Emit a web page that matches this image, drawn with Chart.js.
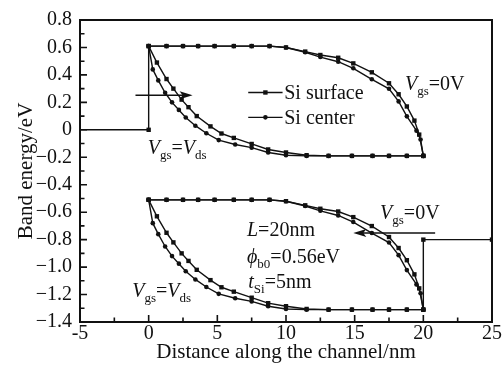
<!DOCTYPE html>
<html>
<head>
<meta charset="utf-8">
<script src="https://cdn.jsdelivr.net/npm/chart.js@4.4.1/dist/chart.umd.min.js"></script>
<style>
  body { margin: 0; background: #fff; }
  canvas { display: block; }
</style>
</head>
<body>
<canvas id="chart" width="503" height="372"></canvas>
<script>
// --- data ---
// Vgs = 0V, flat then bending down near the drain
const xZeroSurface = [0, 1.3, 2.5, 3.6, 4.8, 6.2, 7.5, 8.8, 10.0, 11.4, 12.5, 13.8, 14.9, 16.25, 17.5, 18.2, 18.8, 19.35, 19.7, 20];
const xZeroCenter = [0, 1.3, 2.5, 3.6, 4.8, 6.2, 7.5, 8.8, 10.0, 11.4, 12.5, 13.8, 14.9, 16.25, 17.5, 18.2, 18.8, 19.5, 19.8, 20];
const upZeroSurface = [0.61, 0.61, 0.61, 0.61, 0.61, 0.61, 0.61, 0.61, 0.60, 0.57, 0.545, 0.525, 0.484, 0.419, 0.339, 0.259, 0.170, 0.067, -0.035, -0.19];
const upZeroCenter = [0.61, 0.61, 0.61, 0.61, 0.61, 0.61, 0.61, 0.61, 0.60, 0.565, 0.53, 0.496, 0.448, 0.368, 0.299, 0.207, 0.098, -0.006, -0.071, -0.19];
const lowZeroSurface = [-0.51, -0.51, -0.51, -0.51, -0.51, -0.51, -0.51, -0.51, -0.52, -0.55, -0.575, -0.595, -0.636, -0.701, -0.781, -0.861, -0.95, -1.053, -1.155, -1.31];
const lowZeroCenter = [-0.51, -0.51, -0.51, -0.51, -0.51, -0.51, -0.51, -0.51, -0.52, -0.555, -0.59, -0.624, -0.672, -0.752, -0.821, -0.913, -1.022, -1.126, -1.191, -1.31];

// Vgs = Vds, dropping right after the source
const xVdsOuter = [0, 0.6, 1.3, 1.8, 2.4, 2.9, 3.5, 4.5, 5.3, 6.2, 7.5, 8.7, 10.0, 11.5, 13.1, 14.8, 16.3, 17.5, 18.8, 20];
const xVdsInner = [0, 0.3, 0.7, 1.2, 1.7, 2.2, 2.7, 3.4, 4.2, 5.1, 6.3, 7.5, 8.7, 10.0, 11.5, 13.1, 14.8, 16.3, 17.5, 18.8, 20];
const upVdsOuter = [0.61, 0.49, 0.37, 0.30, 0.22, 0.165, 0.10, 0.025, -0.027, -0.059, -0.103, -0.143, -0.165, -0.185, -0.19, -0.19, -0.19, -0.19, -0.19, -0.19];
const upVdsInner = [0.61, 0.44, 0.36, 0.27, 0.20, 0.145, 0.09, 0.03, -0.025, -0.075, -0.107, -0.13, -0.165, -0.185, -0.19, -0.19, -0.19, -0.19, -0.19, -0.19, -0.19];
const lowVdsOuter = [-0.51, -0.63, -0.75, -0.82, -0.90, -0.955, -1.02, -1.095, -1.147, -1.179, -1.223, -1.263, -1.285, -1.305, -1.31, -1.31, -1.31, -1.31, -1.31, -1.31];
const lowVdsInner = [-0.51, -0.68, -0.76, -0.85, -0.92, -0.975, -1.03, -1.09, -1.145, -1.195, -1.227, -1.25, -1.285, -1.305, -1.31, -1.31, -1.31, -1.31, -1.31, -1.31, -1.31];

// source / drain steps
const xSourceStep = [-5, 0, 0];
const ySourceStep = [0, 0, 0.61];
const xDrainStep = [20, 20, 25];
const yDrainStep = [-1.31, -0.8, -0.8];

const xTicks = [-5, 0, 5, 10, 15, 20, 25];
const yTicks = [0.8, 0.6, 0.4, 0.2, 0, -0.2, -0.4, -0.6, -0.8, -1.0, -1.2, -1.4];

const SERIF = '"Liberation Serif", "Times New Roman", serif';
const INK = '#111';

function pts(xs, ys) {
  return ys.map((y, i) => ({ x: xs[i], y: y }));
}

function series(data, shape, radius) {
  return {
    data: data,
    showLine: true,
    borderColor: INK,
    borderWidth: 1.4,
    pointStyle: shape,
    pointRadius: radius !== undefined ? radius : (shape === 'rect' ? 3.1 : 2.3),
    pointBackgroundColor: INK,
    pointBorderWidth: 0,
    tension: 0
  };
}

const datasets = [
  series(pts(xSourceStep, ySourceStep), 'rect', [0, 3.1, 0]),
  series(pts(xDrainStep, yDrainStep), 'rect', [0, 3.1, 3.1]),
  series(pts(xZeroSurface, upZeroSurface), 'rect'),
  series(pts(xZeroCenter, upZeroCenter), 'circle'),
  series(pts(xVdsOuter, upVdsOuter), 'rect'),
  series(pts(xVdsInner, upVdsInner), 'circle'),
  series(pts(xZeroSurface, lowZeroSurface), 'rect'),
  series(pts(xZeroCenter, lowZeroCenter), 'circle'),
  series(pts(xVdsOuter, lowVdsOuter), 'rect'),
  series(pts(xVdsInner, lowVdsInner), 'circle')
];

// rich text: [text, kind] where kind is 'i' italic, 's' subscript, '' normal
function drawRich(ctx, x, y, parts) {
  let cx = x;
  ctx.textBaseline = 'alphabetic';
  ctx.textAlign = 'left';
  parts.forEach(([text, kind]) => {
    if (kind === 'i') ctx.font = 'italic 20px ' + SERIF;
    else if (kind === 's') ctx.font = '13px ' + SERIF;
    else ctx.font = '20px ' + SERIF;
    ctx.fillText(text, cx, y + (kind === 's' ? 5 : 0));
    cx += ctx.measureText(text).width;
  });
}

function arrow(ctx, x1, x2, y) {
  const dir = Math.sign(x2 - x1);
  ctx.beginPath();
  ctx.moveTo(x1, y);
  ctx.lineTo(x2 - dir * 6, y);
  ctx.stroke();
  ctx.beginPath();
  ctx.moveTo(x2, y);
  ctx.lineTo(x2 - dir * 13, y - 4);
  ctx.lineTo(x2 - dir * 10, y);
  ctx.lineTo(x2 - dir * 13, y + 4);
  ctx.closePath();
  ctx.fill();
}

const framePlugin = {
  id: 'frame',
  afterDraw(chart) {
    const { ctx, chartArea: a, scales } = chart;
    const sx = scales.x, sy = scales.y;
    const X = v => sx.getPixelForValue(v);
    const Y = v => sy.getPixelForValue(v);
    ctx.save();
    ctx.strokeStyle = INK;
    ctx.fillStyle = INK;

    // box
    ctx.lineWidth = 2;
    ctx.strokeRect(a.left, a.top, a.right - a.left, a.bottom - a.top);

    // inward ticks on left and bottom
    ctx.lineWidth = 1.6;
    ctx.beginPath();
    for (let v = -5; v <= 25.01; v += 2.5) {
      const major = Math.abs(v / 5 - Math.round(v / 5)) < 1e-6;
      const len = major ? 7 : 4.5;
      ctx.moveTo(X(v), a.bottom);
      ctx.lineTo(X(v), a.bottom - len);
    }
    for (let i = 0; i <= 22; i++) {
      const v = -1.4 + i * 0.1;
      const len = i % 2 === 0 ? 7 : 4.5;
      ctx.moveTo(a.left, Y(v));
      ctx.lineTo(a.left + len, Y(v));
    }
    ctx.stroke();

    // arrows
    ctx.lineWidth = 1.5;
    arrow(ctx, X(-0.96), X(3.2), Y(0.252));
    arrow(ctx, X(20.86), X(14.9), Y(-0.752));

    // legend
    const legendRows = [['Si surface', 'rect', 0.272], ['Si center', 'circle', 0.091]];
    legendRows.forEach(([label, shape, v]) => {
      const y = Y(v);
      ctx.lineWidth = 1.4;
      ctx.beginPath();
      ctx.moveTo(X(7.25), y);
      ctx.lineTo(X(9.75), y);
      ctx.stroke();
      const mx = (X(7.25) + X(9.75)) / 2;
      ctx.beginPath();
      if (shape === 'rect') ctx.rect(mx - 2.2, y - 2.2, 4.4, 4.4);
      else ctx.arc(mx, y, 2.3, 0, Math.PI * 2);
      ctx.fill();
      ctx.font = '20px ' + SERIF;
      ctx.textBaseline = 'middle';
      ctx.textAlign = 'left';
      ctx.fillText(label, X(9.87), y + 1);
    });

    // annotations
    drawRich(ctx, X(18.67), Y(0.293), [['V', 'i'], ['gs', 's'], ['=0V', '']]);
    drawRich(ctx, X(-0.07), Y(-0.178), [['V', 'i'], ['gs', 's'], ['=', ''], ['V', 'i'], ['ds', 's']]);
    drawRich(ctx, X(16.85), Y(-0.649), [['V', 'i'], ['gs', 's'], ['=0V', '']]);
    drawRich(ctx, X(-1.2), Y(-1.221), [['V', 'i'], ['gs', 's'], ['=', ''], ['V', 'i'], ['ds', 's']]);
    drawRich(ctx, X(7.16), Y(-0.772), [['L', 'i'], ['=20nm', '']]);
    drawRich(ctx, X(7.16), Y(-0.967), [['\u03D5', 'i'], ['b0', 's'], ['=0.56eV', '']]);
    drawRich(ctx, X(7.25), Y(-1.149), [['t', 'i'], ['Si', 's'], ['=5nm', '']]);
    ctx.restore();
  }
};

new Chart(document.getElementById('chart').getContext('2d'), {
  type: 'scatter',
  data: { datasets: datasets },
  options: {
    responsive: false,
    animation: false,
    layout: { padding: { top: 18, right: 11, left: 0, bottom: 0 } },
    plugins: {
      legend: { display: false },
      tooltip: { enabled: false }
    },
    scales: {
      x: {
        type: 'linear',
        min: -5,
        max: 25,
        afterBuildTicks: s => { s.ticks = xTicks.map(v => ({ value: v })); },
        afterFit: s => { s.height = 50; },
        grid: { display: false, drawTicks: false },
        border: { display: false },
        ticks: {
          padding: 0,
          color: INK,
          font: { family: SERIF, size: 20 },
          maxRotation: 0,
          callback: v => String(v)
        },
        title: {
          display: true,
          text: 'Distance along the channel/nm',
          color: INK,
          font: { family: SERIF, size: 21 },
          padding: { top: 0, bottom: 7 }
        }
      },
      y: {
        min: -1.4,
        max: 0.8,
        afterBuildTicks: s => { s.ticks = yTicks.map(v => ({ value: v })); },
        afterFit: s => { s.width = 80; },
        grid: { display: false, drawTicks: false },
        border: { display: false },
        ticks: {
          padding: 8,
          color: INK,
          font: { family: SERIF, size: 20 },
          callback: v => {
            const r = Math.round(v * 10) / 10;
            if (r === 0) return '0';
            return (r < 0 ? '\u2212' : '') + Math.abs(r).toFixed(1);
          }
        },
        title: {
          display: true,
          text: 'Band energy/eV',
          color: INK,
          font: { family: SERIF, size: 21 },
          padding: { top: 14, bottom: 0 }
        }
      }
    }
  },
  plugins: [framePlugin]
});
</script>
</body>
</html>
